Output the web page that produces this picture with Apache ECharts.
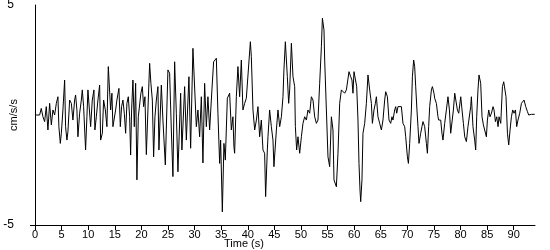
<!DOCTYPE html>
<html>
<head>
<meta charset="utf-8">
<script src="https://cdn.jsdelivr.net/npm/echarts@6/dist/echarts.min.js"></script>
<style>html,body{margin:0;padding:0;background:#fff}#c{width:550px;height:250px}</style>
</head>
<body>
<div id="c"></div>
<script>
const times = [
0,0.87,1.18,1.49,1.81,2.12,2.43,2.75,3.07,3.37,3.69,4.01,4.31,4.49,4.76,4.95,5.25,5.57,5.75,6.00,6.19,6.51,6.83,7.13,7.45,7.63,7.88,8.07,8.39,8.71,8.89,9.14,9.51,9.76,9.95,10.27,10.46,10.77,11.08,11.26,11.53,11.83,12.15,12.34,12.66,12.90,13.22,13.52,13.78,14.03,14.22,14.46,14.65,14.97,15.16,15.40,15.78,16.04,16.28,16.53,16.79,17.04,17.28,17.54,17.79,17.98,18.16,18.41,18.67,18.92,19.16,19.42,19.67,19.91,20.18,20.42,20.67,20.93,21.23,21.55,21.79,22.06,22.30,22.55,22.81,23.11,23.30,
23.75,24.05,24.50,24.99,25.31,25.63,25.93,26.25,26.57,26.87,27.38,27.62,28.13,28.45,28.94,29.26,29.69,30.01,30.33,30.63,30.95,31.27,31.57,31.89,32.21,32.51,32.83,33.26,33.58,34.09,34.39,34.71,34.90,35.22,35.52,35.78,36.16,36.59,36.91,37.21,37.40,
37.53,37.85,38.15,38.47,38.79,39.09,39.41,39.73,40.03,40.49,40.67,40.98,41.30,41.62,41.92,42.23,42.55,42.86,43.17,43.36,43.68,43.80,44.11,44.43,44.74,44.92,45.38,45.68,46.00,46.32,46.62,46.80,47.07,47.44,47.69,47.88,48.20,48.50,48.82,48.95,49.19,49.44,49.76,50.08,50.38,50.70,51.02,51.32,51.64,51.96,52.26,52.58,52.90,53.20,53.52,53.84,54.03,54.33,54.46,54.78,55.08,55.40,55.72,56.02,56.21,
56.66,56.96,57.28,57.60,58.22,58.54,59.03,59.35,59.59,59.78,59.97,60.23,60.48,60.72,60.91,61.10,61.23,61.47,61.66,61.98,62.30,62.60,62.92,63.24,63.43,63.73,63.99,64.18,64.48,64.80,65.12,65.42,65.74,65.93,66.25,66.55,66.87,67.11,67.30,67.62,67.81,68.00,68.24,68.56,68.88,69.18,69.50,69.69,70.01,70.20,70.44,70.76,70.95,71.19,71.38,71.57,71.81,72.00,72.19,72.51,72.75,72.94,73.26,73.58,73.77,74.01,74.20,74.52,74.71,75.01,
75.14,75.46,75.76,75.89,76.27,76.51,76.70,77.02,77.34,77.64,77.91,78.15,78.40,78.66,78.91,79.10,79.41,79.66,80.04,80.28,80.54,80.79,81.10,81.40,81.67,81.91,82.04,82.34,82.66,82.85,83.04,83.28,83.47,83.79,84.04,84.30,84.55,84.86,85.05,85.30,85.54,85.81,86.11,86.30,86.56,86.81,87.05,87.24,87.56,87.88,88.12,88.31,88.55,88.82,89.06,89.31,89.57,89.81,90.06,90.32,90.56,90.80,91.13,91.45,91.75,91.94,92.26,92.58,92.82,93.33,93.95
];
const accel = [
0,0,0.30,-0.08,-0.30,0.38,-0.68,0.53,-0.45,0.23,0,0.53,0.83,-0.53,-1.29,-0.83,0.23,1.59,-0.53,-1.14,-0.76,0.68,0.53,-0.23,0.68,0.91,0.23,-0.99,0.08,0.68,1.14,0.38,-1.59,-0.08,1.14,1.21,-0.53,0.68,1.14,-0.68,-0.08,0.68,1.36,-1.14,-0.83,0.68,0.23,-0.53,2.20,2.27,0.23,0.99,-0.53,-0.60,0.23,0.68,1.21,-0.53,0.38,0.68,0.08,-0.83,0.53,0.83,-0.08,-1.82,0.23,1.59,-0.53,1.44,-2.95,-0.08,-0.08,0.99,1.29,0.38,0.83,-1.80,0.23,2.35,1.44,0.68,-1.90,-0.08,0.68,1.29,-1.59,
1.36,-0.23,-2.27,2.05,1.90,-0.68,-2.80,2.42,0.08,-2.58,0.99,-1.59,1.29,-1.14,1.74,-1.51,3.03,3.10,-0.53,0.23,-0.99,0.83,-2.18,1.44,-0.53,0.83,-0.68,1.14,2.42,2.58,0.08,-2.20,-1.14,-4.40,-1.29,-2.05,0.76,0.99,-0.68,-0.08,-1.44,
-1.74,0.83,2.20,0.83,2.50,0.23,0.53,0.76,0.83,3.33,2.65,0.23,-0.68,-0.23,0.38,-0.99,-0.23,-1.59,-1.74,-3.71,-1.59,-0.99,0.23,-0.53,-1.14,-2.35,-0.68,0.23,-0.53,-0.08,0.83,2.05,3.33,1.74,0.53,1.14,3.26,1.74,1.29,-0.53,-1.59,-0.99,-1.74,-0.99,-0.38,-0.08,-0.23,0.23,0.08,0.83,0.68,-0.08,-0.38,-0.23,1.44,3.10,4.40,3.86,2.50,0.23,-1.90,-2.35,-0.08,-0.68,-2.95,
-3.26,-1.74,0.53,1.14,0.99,1.14,1.97,1.74,1.59,0.99,1.97,1.90,1.29,-0.23,-2.20,-3.41,-3.94,-2.95,-0.83,-0.38,0.53,1.82,1.14,0.53,-0.38,0.23,0.53,0.83,-0.08,-0.38,-0.68,-0.23,0.68,1.06,0.83,-0.23,-0.38,-0.08,-0.23,0.23,0.38,0.08,0.38,0.45,0.38,-0.38,-0.53,-0.99,-1.90,-2.20,-1.29,0.23,1.74,2.50,2.20,1.29,0.23,-0.53,-1.29,-0.83,-0.53,-0.30,-0.53,-1.29,-1.74,-0.53,0.38,1.14,1.29,0.99,
0.76,0.53,-0.08,-0.23,-0.23,-0.83,-1.14,-0.38,0.23,0.83,0.23,-0.83,-0.83,0.23,0.99,0.91,0.23,0.08,0.83,0.23,-0.38,-0.99,-1.21,-0.53,-0.53,0.38,0.83,-0.53,-1.14,-1.59,-0.08,1.14,1.82,1.44,-0.08,-0.45,-0.53,-0.99,-0.23,0.23,-0.08,0.08,0.38,0.23,-0.30,-0.08,-0.53,-0.08,-0.38,1.29,1.51,1.59,0.83,-0.83,-1.36,-0.68,-0.08,0.23,0.08,0.23,-0.53,-0.23,0.08,0.53,0.53,0.68,0.38,0.15,0,0.03,0.03
];
const xTicks = [0,5,10,15,20,25,30,35,40,45,50,55,60,65,70,75,80,85,90];
const yTicks = [-5,5];
const xTitle = 'Time (s)';
const yTitle = 'cm/s/s';

const FONT = "'Liberation Sans Narrow','Liberation Sans',sans-serif";
const chart = echarts.init(document.getElementById('c'), null, {renderer:'canvas'});
chart.setOption({
  animation:false,
  backgroundColor:'#fff',
  title:{text:xTitle,left:224,top:238,padding:0,textStyle:{fontFamily:FONT,fontSize:11,fontWeight:'normal',color:'#000'}},
  grid:{left:35,right:15,top:5,bottom:25,containLabel:false,outerBoundsMode:'none'},
  xAxis:{
    type:'value',min:0,max:94,
    axisLine:{show:true,onZero:false,lineStyle:{color:'#000',width:1}},
    axisTick:{show:true,length:5,customValues:xTicks,lineStyle:{color:'#000'}},
    axisLabel:{customValues:xTicks,margin:4,color:'#000',fontFamily:FONT,fontSize:11},
    splitLine:{show:false}
  },
  yAxis:{
    type:'value',min:-5,max:5,
    name:yTitle,nameLocation:'middle',nameGap:16,nameMoveOverlap:false,
    nameTextStyle:{fontFamily:FONT,fontSize:11,color:'#000'},
    axisLine:{show:true,lineStyle:{color:'#000',width:1}},
    axisTick:{show:true,length:5,customValues:[-5],lineStyle:{color:'#000'}},
    axisLabel:{customValues:yTicks,margin:21,color:'#000',fontFamily:FONT,fontSize:12},
    splitLine:{show:false}
  },
  series:[{
    type:'line',
    data:times.map((t,i)=>[t,accel[i]]),
    showSymbol:false,symbol:'none',
    lineStyle:{color:'#000',width:1},
    silent:true
  }]
});
</script>
</body>
</html>
